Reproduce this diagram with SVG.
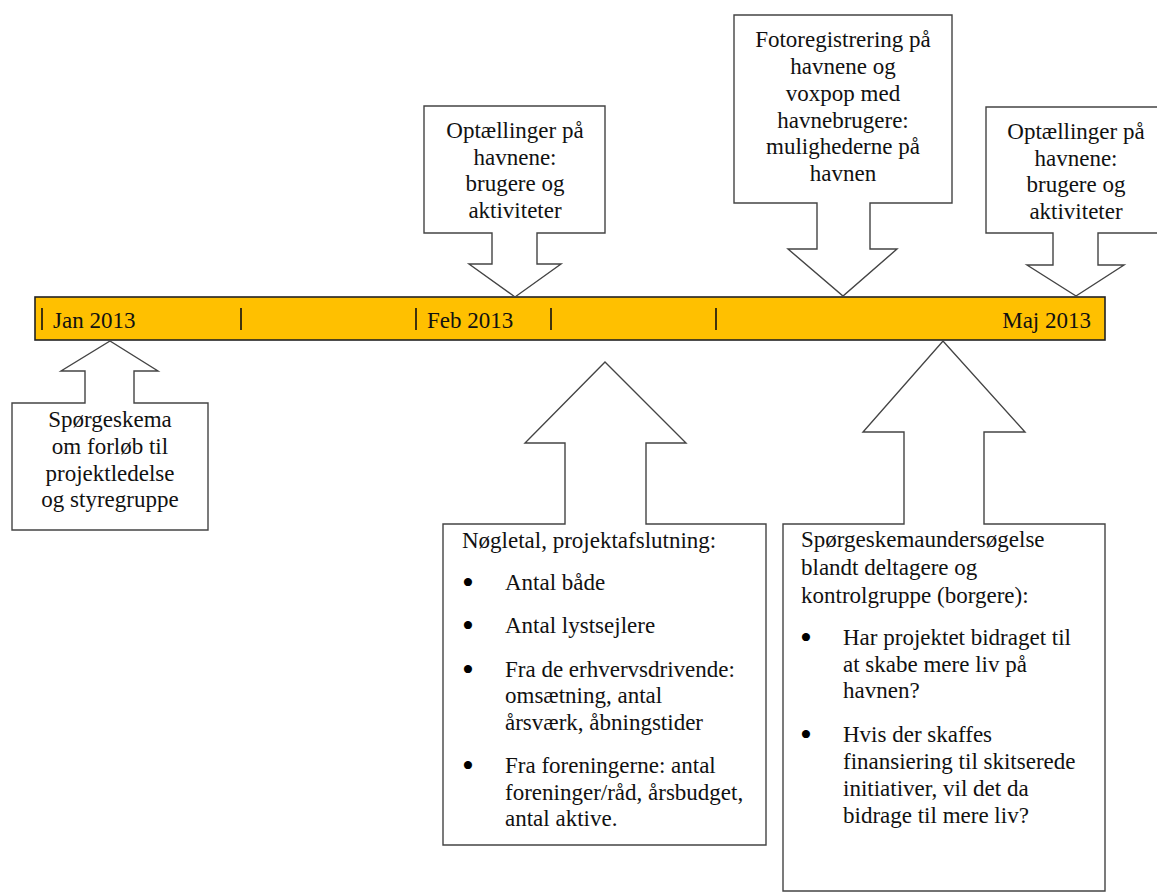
<svg xmlns="http://www.w3.org/2000/svg" width="1157" height="893" viewBox="0 0 1157 893">
<style>
.t{font-family:"Liberation Serif","Times New Roman",serif;font-size:23px;fill:#111}
.c{text-anchor:middle}
.e{text-anchor:end}
.b{font-family:"Liberation Serif","Times New Roman",serif;font-size:34px;fill:#000;text-anchor:middle}
.co{fill:#fff;stroke:#444;stroke-width:1.4;stroke-linejoin:miter}
.tick{stroke:#111;stroke-width:1.6}
</style>
<rect width="1157" height="893" fill="#fff"/>
<g id="timeline">
<rect x="35" y="297" width="1070" height="43" fill="#FFC000" stroke="#222" stroke-width="1.6"/>
<line class="tick" x1="42" y1="308" x2="42" y2="330"/>
<line class="tick" x1="241" y1="308" x2="241" y2="330"/>
<line class="tick" x1="416" y1="308" x2="416" y2="330"/>
<line class="tick" x1="551" y1="308" x2="551" y2="330"/>
<line class="tick" x1="716" y1="308" x2="716" y2="330"/>
<text class="t" x="53" y="328">Jan 2013</text>
<text class="t" x="427" y="328">Feb 2013</text>
<text class="t e" x="1091" y="328">Maj 2013</text>
</g>
<g id="connectors"></g>
<g id="node-optaelling1">
<path class="co" d="M424,106 H605 V233 H537 V264 H561 L515,297 L469,264 H492 V233 H424 Z"/>
<text class="t c" x="515" y="138">Optællinger på</text>
<text class="t c" x="515" y="165">havnene:</text>
<text class="t c" x="515" y="191">brugere og</text>
<text class="t c" x="515" y="218">aktiviteter</text>
</g>
<g id="node-foto">
<path class="co" d="M734,15 H952 V203 H870 V249 H897 L843,296 L788,249 H817 V203 H734 Z"/>
<text class="t c" x="843" y="47">Fotoregistrering på</text>
<text class="t c" x="843" y="74">havnene og</text>
<text class="t c" x="843" y="101">voxpop med</text>
<text class="t c" x="843" y="128">havnebrugere:</text>
<text class="t c" x="843" y="154">mulighederne på</text>
<text class="t c" x="843" y="181">havnen</text>
</g>
<g id="node-optaelling2">
<path class="co" d="M986,107 H1170 V233 H1098 V265 H1124 L1076,296 L1027,265 H1053 V233 H986 Z"/>
<text class="t c" x="1076" y="139">Optællinger på</text>
<text class="t c" x="1076" y="166">havnene:</text>
<text class="t c" x="1076" y="192">brugere og</text>
<text class="t c" x="1076" y="219">aktiviteter</text>
</g>
<g id="node-spoergeskema">
<path class="co" d="M12,403 H85 V371 H61 L110,341 L158,371 H134 V403 H208 V530 H12 Z"/>
<text class="t c" x="110" y="427">Spørgeskema</text>
<text class="t c" x="110" y="454">om forløb til</text>
<text class="t c" x="110" y="481">projektledelse</text>
<text class="t c" x="110" y="507">og styregruppe</text>
</g>
<g id="node-noegletal">
<path class="co" d="M443,524 H565 V443 H525 L605,362 L686,443 H646 V524 H766 V845 H443 Z"/>
<text class="t" x="462" y="548">Nøgletal, projektafslutning:</text>
<text class="b" x="468" y="594">•</text>
<text class="t" x="505" y="590">Antal både</text>
<text class="b" x="468" y="637">•</text>
<text class="t" x="505" y="633">Antal lystsejlere</text>
<text class="b" x="468" y="681">•</text>
<text class="t" x="505" y="677">Fra de erhvervsdrivende:</text>
<text class="t" x="505" y="703">omsætning, antal</text>
<text class="t" x="505" y="730">årsværk, åbningstider</text>
<text class="b" x="468" y="777">•</text>
<text class="t" x="505" y="773">Fra foreningerne: antal</text>
<text class="t" x="505" y="800">foreninger/råd, årsbudget,</text>
<text class="t" x="505" y="826">antal aktive.</text>
</g>
<g id="node-undersoegelse">
<path class="co" d="M783,524 H904 V432 H863 L943,341 L1025,432 H984 V524 H1105 V891 H783 Z"/>
<text class="t" x="801" y="547">Spørgeskemaundersøgelse</text>
<text class="t" x="801" y="575">blandt deltagere og</text>
<text class="t" x="801" y="603">kontrolgruppe (borgere):</text>
<text class="b" x="806" y="649">•</text>
<text class="t" x="843" y="645">Har projektet bidraget til</text>
<text class="t" x="843" y="672">at skabe mere liv på</text>
<text class="t" x="843" y="698">havnen?</text>
<text class="b" x="806" y="746">•</text>
<text class="t" x="843" y="742">Hvis der skaffes</text>
<text class="t" x="843" y="769">finansiering til skitserede</text>
<text class="t" x="843" y="796">initiativer, vil det da</text>
<text class="t" x="843" y="823">bidrage til mere liv?</text>
</g>
</svg>
